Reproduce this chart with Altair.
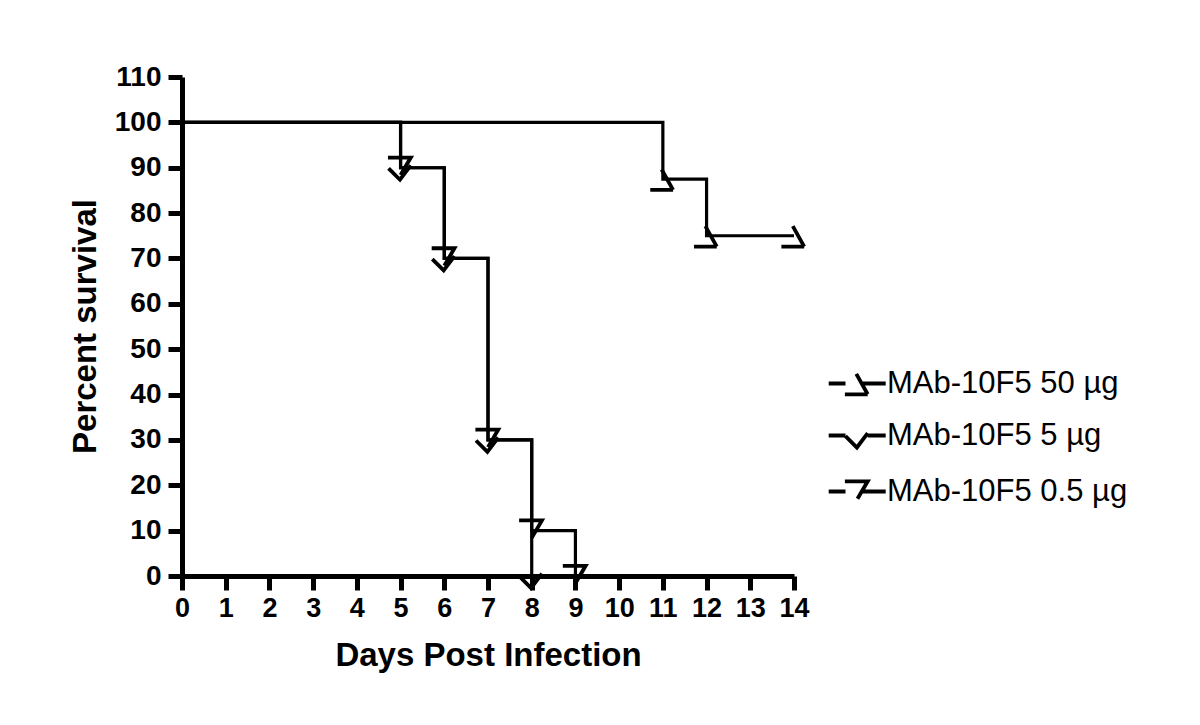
import altair as alt
import pandas as pd

# ---- data ----
series_names = ["MAb-10F5 50 µg", "MAb-10F5 5 µg", "MAb-10F5 0.5 µg"]

# Kaplan-Meier step points (day, percent survival)
steps_50_days = [0, 11, 12, 14]
steps_50_vals = [100, 87.5, 75, 75]
steps_5_days = [0, 5, 6, 7, 8]
steps_5_vals = [100, 90, 70, 30, 0]
steps_05_days = [0, 5, 6, 7, 8, 9]
steps_05_vals = [100, 90, 70, 30, 10, 0]

# censor / event markers
marks_50_days = [11, 12, 14]
marks_50_vals = [87.5, 75, 75]
marks_5_days = [5, 6, 7, 8]
marks_5_vals = [90, 70, 30, 0]
marks_05_days = [5, 6, 7, 8, 9]
marks_05_vals = [90, 70, 30, 10, 0]

x_ticks = list(range(0, 15))
y_ticks = list(range(0, 111, 10))

# ---- marker shapes (SVG paths in unit space) ----
marker_paths = [
    "M -1.05 0.9 L 0.85 0.9 M -0.1 -0.8 L 0.85 0.9",
    "M -1 0.05 L -0.05 1 L 0.85 -0.2",
    "M -1.05 -0.85 L 0.85 -0.85 L 0 0.6",
]
legend_paths = [
    "M -2.4 0 L -1.0 0 M -1.05 0.9 L 0.85 0.9 M -0.1 -0.8 L 0.85 0.9 M 0.3 0 L 2.35 0",
    "M -2.4 0 L -1.0 0 M -1 0.05 L -0.05 1 L 0.85 -0.2 M 0.85 0 L 2.35 0",
    "M -2.4 0 L -1.0 0 M -1.05 -0.85 L 0.85 -0.85 L 0 0.6 M 0.4 0 L 2.35 0",
]

def frame(name, days, vals):
    return pd.DataFrame({"series": name, "day": days, "pct": vals})

steps_df = pd.concat([
    frame(series_names[0], steps_50_days, steps_50_vals),
    frame(series_names[1], steps_5_days, steps_5_vals),
    frame(series_names[2], steps_05_days, steps_05_vals),
])
marks_df = pd.concat([
    frame(series_names[0], marks_50_days, marks_50_vals),
    frame(series_names[1], marks_5_days, marks_5_vals),
    frame(series_names[2], marks_05_days, marks_05_vals),
])

FONT = "Liberation Sans, Arial, Helvetica, sans-serif"

x_enc = alt.X(
    "day:Q",
    scale=alt.Scale(domain=[0, 14], nice=False),
    axis=alt.Axis(
        values=x_ticks, title="Days Post Infection", grid=False,
        labelFont=FONT, labelFontSize=27, labelFontWeight="bold", labelColor="black",
        labelPadding=5, labelFlush=False,
        titleFont=FONT, titleFontSize=33, titleFontWeight="bold", titleColor="black",
        titleX=306, titleY=79, titleBaseline="middle",
        domainColor="black", domainWidth=5, tickColor="black", tickWidth=5, tickSize=14,
    ),
)
y_enc = alt.Y(
    "pct:Q",
    scale=alt.Scale(domain=[0, 110], nice=False),
    axis=alt.Axis(
        values=y_ticks, title="Percent survival", grid=False,
        labelFont=FONT, labelFontSize=28, labelFontWeight="bold", labelColor="black",
        labelPadding=7, labelFlush=False,
        titleFont=FONT, titleFontSize=33, titleFontWeight="bold", titleColor="black",
        titleX=-97, titleY=249, titleBaseline="middle", titleAngle=-90,
        domainColor="black", domainWidth=5, tickColor="black", tickWidth=5, tickSize=14,
    ),
)

lines = alt.Chart(steps_df).mark_line(
    interpolate="step-after", color="black", strokeWidth=3.2
).encode(x=x_enc, y=y_enc, detail="series:N")

markers = alt.Chart(marks_df).mark_point(
    filled=False, color="black", strokeWidth=3.8, size=576, opacity=1
).encode(
    x="day:Q", y="pct:Q",
    shape=alt.Shape("series:N", scale=alt.Scale(domain=series_names, range=marker_paths), legend=None),
)

legend_layer = alt.Chart(marks_df).mark_point(
    filled=False, color="black", strokeWidth=3.8, size=576, opacity=0
).encode(
    x="day:Q", y="pct:Q",
    shape=alt.Shape(
        "series:N",
        scale=alt.Scale(domain=series_names, range=legend_paths),
        sort=series_names,
        legend=alt.Legend(
            title=None, orient="none", legendX=660, legendY=291,
            labelFont=FONT, labelFontSize=31, labelColor="black", labelLimit=400,
            labelOffset=14, rowPadding=17, padding=0,
            symbolSize=576, symbolStrokeWidth=3.8, symbolStrokeColor="black",
            symbolFillColor="transparent", symbolOpacity=1,
        ),
    ),
)

chart = alt.layer(lines, markers, legend_layer).resolve_scale(
    shape="independent"
).properties(
    width=612, height=499,
    background="white",
    autosize=alt.AutoSizeParams(type="none"),
    padding={"left": 174, "top": 69, "right": 390, "bottom": 130},
).configure_view(stroke=None)

chart.save("out.html", embed_options={"renderer": "svg", "actions": False})
